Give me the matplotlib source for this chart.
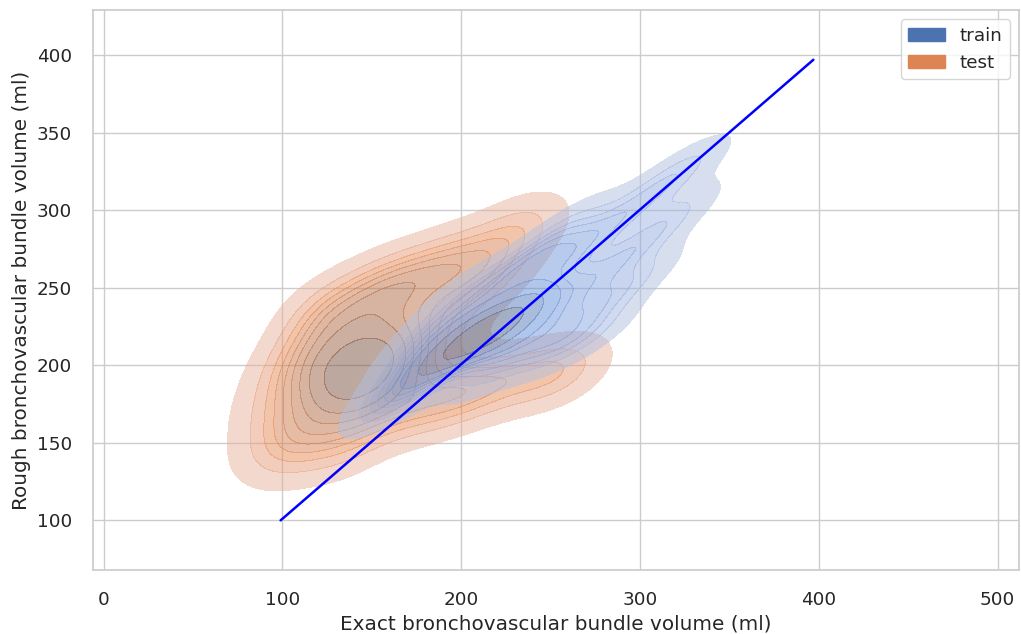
import matplotlib
matplotlib.use("Agg")
import matplotlib.pyplot as plt
import seaborn as sns
import pandas as pd
from matplotlib.patches import Patch

sns.set_theme(style="whitegrid", font_scale=1.2)

# estimated volumes (ml)
test_exact = [146, 135, 158, 140, 152, 128, 165, 148, 135, 160, 145,
              110, 118, 115, 130, 160, 180, 185, 170, 150, 125,
              95, 95, 105, 135, 105, 125, 155, 185, 205, 225, 238, 205, 220,
              150, 170, 190, 120,
              195, 215, 235, 250, 262, 205, 180]
test_rough = [196, 188, 204, 210, 182, 200, 195, 220, 175, 215, 196,
              165, 185, 205, 228, 238, 230, 210, 175, 165, 158,
              150, 175, 140, 145, 200, 240, 255, 258, 268, 282, 292, 245, 262,
              245, 255, 268, 225,
              185, 188, 192, 195, 198, 180, 170]

train_exact = [212, 205, 225, 200, 230, 210, 222, 215, 198, 238, 212, 218,
               180, 185, 200, 225, 250, 255, 245, 215, 175, 240,
               255, 270, 290, 310, 328, 265, 285, 305, 322,
               245, 262, 280, 300,
               165, 170, 160,
               255, 275]
train_rough = [220, 215, 230, 210, 232, 238, 210, 222, 220, 225, 225, 218,
               195, 225, 248, 258, 250, 230, 212, 195, 210, 262,
               265, 280, 295, 315, 330, 250, 265, 282, 300,
               275, 292, 240, 258,
               175, 195, 180,
               212, 220]

line_x = [99, 397]
line_y = [100, 397]

test = pd.DataFrame({"exact": test_exact, "rough": test_rough})
train = pd.DataFrame({"exact": train_exact, "rough": train_rough})

fig = plt.figure(figsize=(10.21, 6.34), dpi=100)
ax = fig.add_axes([0.091, 0.101, 0.907, 0.883])

blue = sns.color_palette()[0]
orange = sns.color_palette()[1]

sns.kdeplot(data=test, x="exact", y="rough", fill=True, alpha=0.5,
            bw_adjust=0.8, color=orange, ax=ax)
sns.kdeplot(data=train, x="exact", y="rough", fill=True, alpha=0.5,
            bw_adjust=0.8, color=blue, ax=ax)
ax.plot(line_x, line_y, color="blue", linewidth=1.8)

ax.set_xlim(-6, 512)
ax.set_ylim(68, 429)
ax.tick_params(pad=9)
ax.set_xlabel("Exact bronchovascular bundle volume (ml)")
ax.set_ylabel("Rough bronchovascular bundle volume (ml)")
ax.legend(handles=[Patch(color=blue, label="train"),
                   Patch(color=orange, label="test")], loc="upper right")

fig.savefig("out.png", dpi=100)
